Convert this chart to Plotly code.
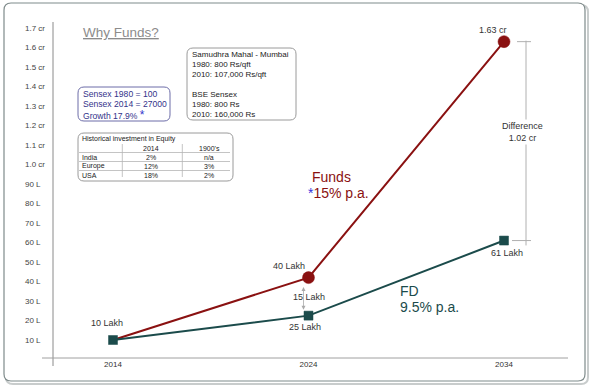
import plotly.graph_objects as go

# ---------------- data ----------------
years = [2014, 2024, 2034]
year_labels = ["2014", "2024", "2034"]
funds = [10, 42, 163]          # lakh
fd = [10, 22.5, 61]            # lakh
funds_labels = ["10 Lakh", "40 Lakh", "1.63 cr"]
fd_labels = ["", "25 Lakh", "61 Lakh"]
gap_label = "15 Lakh"
diff_label = "Difference<br>1.02 cr"
y_tickvals = [10, 20, 30, 40, 50, 60, 70, 80, 90, 100, 110, 120, 130, 140, 150, 160, 170]
y_ticktext = ["10 L", "20 L", "30 L", "40 L", "50 L", "60 L", "70 L", "80 L", "90 L",
              "1.0 cr", "1.1 cr", "1.2 cr", "1.3 cr", "1.4 cr", "1.5 cr", "1.6 cr", "1.7 cr"]
sensex_lines = ["Sensex 1980 = 100", "Sensex 2014 = 27000",
                "Growth 17.9% <span style='font-size:12px;color:#3333cc'>*</span>"]
info_lines = ["Samudhra Mahal - Mumbai", "1980: 800 Rs/qft", "2010: 107,000 Rs/qft", "",
              "BSE Sensex", "1980: 800 Rs", "2010: 160,000 Rs"]
table_title = "Historical investment in Equity"
table_cols = ["", "2014", "1900's"]
table_rows = ["India", "Europe", "USA"]
table_2014 = ["2%", "12%", "18%"]
table_1900 = ["n/a", "3%", "2%"]

FUNDS_C = "#8a1111"
FD_C = "#1b4b4b"
FONT = "Liberation Sans, Arial, sans-serif"

W, H = 590, 388
L, R, T, B = 53, 22, 22, 30
PW, PH = W - L - R, H - T - B


def PX(x):
    return (x - L) / PW


def PY(y):
    return (H - B - y) / PH


def rrect(x0, y0, x1, y1, r):
    pts = [
        f"M{PX(x0 + r)},{PY(y0)}", f"L{PX(x1 - r)},{PY(y0)}",
        f"Q{PX(x1)},{PY(y0)} {PX(x1)},{PY(y0 + r)}", f"L{PX(x1)},{PY(y1 - r)}",
        f"Q{PX(x1)},{PY(y1)} {PX(x1 - r)},{PY(y1)}", f"L{PX(x0 + r)},{PY(y1)}",
        f"Q{PX(x0)},{PY(y1)} {PX(x0)},{PY(y1 - r)}", f"L{PX(x0)},{PY(y0 + r)}",
        f"Q{PX(x0)},{PY(y0)} {PX(x0 + r)},{PY(y0)}", "Z"]
    return " ".join(pts)


fig = go.Figure()
fig.add_trace(go.Scatter(x=years, y=funds, mode="lines+markers",
                         line=dict(color=FUNDS_C, width=2),
                         marker=dict(symbol="circle", size=[0, 12, 12], color=FUNDS_C, opacity=1,
                                     line=dict(color=FUNDS_C, width=0.5)),
                         hoverinfo="skip", showlegend=False))
fig.add_trace(go.Scatter(x=years, y=fd, mode="lines+markers",
                         line=dict(color=FD_C, width=2),
                         marker=dict(symbol="square", size=9, color=FD_C, opacity=1,
                                     line=dict(color=FD_C, width=0.5)),
                         hoverinfo="skip", showlegend=False))

shapes = []
ann = []

# outer frame with shadow
shapes.append(dict(type="path", xref="paper", yref="paper", path=rrect(6, 5, 588, 384, 7),
                   line=dict(color="#c8cccc", width=2), layer="below"))
shapes.append(dict(type="path", xref="paper", yref="paper", path=rrect(4, 3, 585, 381, 7),
                   line=dict(color="#7f8b8b", width=1.2), fillcolor="white", layer="below"))
# axis lines
shapes.append(dict(type="line", xref="paper", yref="paper", x0=PX(53), x1=PX(53), y0=PY(22), y1=PY(366),
                   line=dict(color="#8a8a8a", width=1)))
shapes.append(dict(type="line", xref="paper", yref="paper", x0=PX(42), x1=PX(568), y0=PY(358), y1=PY(358),
                   line=dict(color="#a0a0a0", width=1)))

# y tick labels, left aligned
for v, t in zip(y_tickvals, y_ticktext):
    ann.append(dict(xref="paper", yref="y", x=PX(23), y=v, text=t, showarrow=False,
                    xanchor="left", yanchor="middle", font=dict(size=8, color="#444")))

# title
ann.append(dict(xref="paper", yref="paper", x=PX(81), y=PY(32), text="<u>Why Funds?</u>",
                showarrow=False, xanchor="left", yanchor="middle",
                font=dict(size=13.5, color="#8c8c8c")))

# sensex box
shapes.append(dict(type="path", xref="paper", yref="paper", path=rrect(78, 87, 170, 121, 6),
                   line=dict(color="#6d6da8", width=1)))
for i, t in enumerate(sensex_lines):
    ann.append(dict(xref="paper", yref="paper", x=PX(81), y=PY(94 + 10.3 * i), text=t, showarrow=False,
                    xanchor="left", yanchor="middle", font=dict(size=8.6, color="#33338a")))

# info box
shapes.append(dict(type="path", xref="paper", yref="paper", path=rrect(187, 48, 296, 120, 6),
                   line=dict(color="#9a9a9a", width=1)))
for i, t in enumerate(info_lines):
    if t:
        ann.append(dict(xref="paper", yref="paper", x=PX(190), y=PY(55 + 9.9 * i), text=t, showarrow=False,
                        xanchor="left", yanchor="middle", font=dict(size=8, color="#222")))

# table
shapes.append(dict(type="path", xref="paper", yref="paper", path=rrect(78, 133, 233, 181, 6),
                   line=dict(color="#9a9a9a", width=1)))
ann.append(dict(xref="paper", yref="paper", x=PX(80), y=PY(139), text=table_title, showarrow=False,
                xanchor="left", yanchor="middle", font=dict(size=7, color="#222")))
for yy in [152.5, 161.5, 170.5]:
    shapes.append(dict(type="line", xref="paper", yref="paper", x0=PX(79), x1=PX(230),
                       y0=PY(yy), y1=PY(yy), line=dict(color="#b5b5b5", width=0.8)))
for xx in [122.3, 182.3]:
    shapes.append(dict(type="line", xref="paper", yref="paper", x0=PX(xx), x1=PX(xx),
                       y0=PY(144), y1=PY(177), line=dict(color="#b5b5b5", width=0.8)))
col_x = [80, 151, 209]
ann.append(dict(xref="paper", yref="paper", x=PX(col_x[1]), y=PY(148), text=table_cols[1], showarrow=False,
                xanchor="center", yanchor="middle", font=dict(size=7, color="#222")))
ann.append(dict(xref="paper", yref="paper", x=PX(col_x[2]), y=PY(148), text=table_cols[2], showarrow=False,
                xanchor="center", yanchor="middle", font=dict(size=7, color="#222")))
for i, (rn, a, b) in enumerate(zip(table_rows, table_2014, table_1900)):
    yy = 157 + 9.3 * i
    ann.append(dict(xref="paper", yref="paper", x=PX(col_x[0]), y=PY(yy), text=rn, showarrow=False,
                    xanchor="left", yanchor="middle", font=dict(size=7, color="#222")))
    ann.append(dict(xref="paper", yref="paper", x=PX(col_x[1]), y=PY(yy), text=a, showarrow=False,
                    xanchor="center", yanchor="middle", font=dict(size=7, color="#222")))
    ann.append(dict(xref="paper", yref="paper", x=PX(col_x[2]), y=PY(yy), text=b, showarrow=False,
                    xanchor="center", yanchor="middle", font=dict(size=7, color="#222")))

# series labels
ann.append(dict(xref="paper", yref="paper", x=PX(331), y=PY(177), text="Funds", showarrow=False,
                xanchor="center", yanchor="middle", font=dict(size=14, color=FUNDS_C)))
ann.append(dict(xref="paper", yref="paper", x=PX(306), y=PY(193),
                text="<span style='color:#3333dd'>*</span>15% p.a.", showarrow=False,
                xanchor="left", yanchor="middle", font=dict(size=14, color=FUNDS_C)))
ann.append(dict(xref="paper", yref="paper", x=PX(398), y=PY(291), text="FD", showarrow=False,
                xanchor="left", yanchor="middle", font=dict(size=14, color=FD_C)))
ann.append(dict(xref="paper", yref="paper", x=PX(398), y=PY(307), text="9.5% p.a.", showarrow=False,
                xanchor="left", yanchor="middle", font=dict(size=14, color=FD_C)))

# data labels
lab_font = dict(size=9, color="#333")
ann.append(dict(x=years[0], y=funds[0], text=funds_labels[0], showarrow=False, xshift=-6, yshift=17, font=lab_font))
ann.append(dict(x=years[1], y=funds[1], text=funds_labels[1], showarrow=False, xshift=-20, yshift=12, font=lab_font))
ann.append(dict(x=years[2], y=funds[2], text=funds_labels[2], showarrow=False, xshift=-11, yshift=12, font=lab_font))
ann.append(dict(x=years[1], y=fd[1], text=fd_labels[1], showarrow=False, xshift=-4, yshift=-11, font=lab_font))
ann.append(dict(x=years[2], y=fd[2], text=fd_labels[2], showarrow=False, xshift=3, yshift=-12, font=lab_font))

# gap arrow at 2024
ann.append(dict(x=years[1], y=fd[1], ax=years[1], ay=funds[1], axref="x", ayref="y", text="",
                showarrow=True, arrowhead=2, startarrowhead=2, arrowside="end+start", arrowsize=1,
                arrowwidth=0.8, arrowcolor="#aaaaaa", standoff=6, startstandoff=8, xshift=-5))
ann.append(dict(x=years[1], y=(funds[1] + fd[1]) / 2, text=gap_label, showarrow=False,
                xshift=0, yshift=0, font=lab_font))

# difference bracket
shapes.append(dict(type="line", xref="x", yref="y", xsizemode="pixel", xanchor=years[2], x0=22, x1=22,
                   y0=fd[2] - 2.5, y1=funds[2] + 0.5, line=dict(color="#b0b0b0", width=1)))
shapes.append(dict(type="line", xref="x", yref="y", xsizemode="pixel", xanchor=years[2], x0=13, x1=27,
                   y0=funds[2], y1=funds[2], line=dict(color="#b0b0b0", width=1)))
shapes.append(dict(type="line", xref="x", yref="y", xsizemode="pixel", xanchor=years[2], x0=8, x1=27,
                   y0=fd[2], y1=fd[2], line=dict(color="#b0b0b0", width=1)))
ann.append(dict(x=years[2], y=(funds[2] + fd[2]) / 2, text=diff_label, showarrow=False,
                xshift=18, yshift=9, bgcolor="white", font=lab_font))

px_per_year = 391.0 / 20
x0 = 2014 - (113 - L) / px_per_year
x1 = x0 + PW / px_per_year
y_lo = 10 - (H - B - 340) / 1.95
y_hi = 10 + (340 - T) / 1.95

fig.update_layout(
    width=W, height=H, autosize=False,
    margin=dict(l=L, r=R, t=T, b=B),
    paper_bgcolor="white", plot_bgcolor="rgba(0,0,0,0)",
    font=dict(family=FONT),
    hovermode=False,
    xaxis=dict(range=[x0, x1], tickvals=years, ticktext=year_labels, showgrid=False, zeroline=False,
               showline=False, ticks="", tickfont=dict(size=8, color="#333"), ticklabelstandoff=0,
               fixedrange=True),
    yaxis=dict(range=[y_lo, y_hi], showgrid=False, zeroline=False, showline=False,
               showticklabels=False, ticks="", fixedrange=True),
    shapes=shapes, annotations=ann,
)

fig.write_html("out.html", config={"displayModeBar": False, "staticPlot": True},
               post_script="document.body.style.margin='0';document.body.style.padding='0';")
